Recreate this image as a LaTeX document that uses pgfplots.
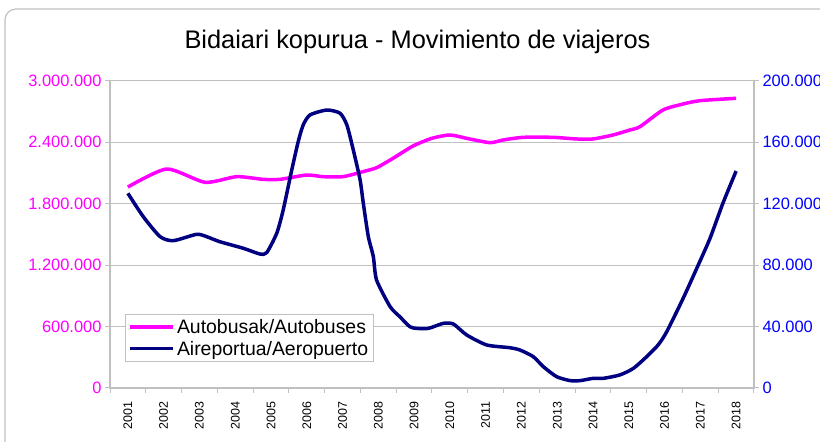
\documentclass[border=0pt]{standalone}
\usepackage{pgfplots}
\pgfplotsset{compat=1.18}
\usepackage{fontspec}
\setmainfont{Liberation Sans}
\definecolor{mag}{RGB}{255,0,255}
\definecolor{navy}{RGB}{0,0,128}
\definecolor{blu}{RGB}{0,0,255}
\definecolor{gridgray}{RGB}{192,192,192}
\begin{document}
\begin{tikzpicture}[x=1bp,y=1bp]
\useasboundingbox (0,0) rectangle (820,442);
\draw[gridgray, line width=1.2bp, rounded corners=11bp] (5,-30) rectangle (850,433);
\node[anchor=base, font=\fontsize{25.5}{30}\selectfont] at (417.5,393) {Bidaiari kopurua - Movimiento de viajeros};
\begin{axis}[
  at={(110bp,54bp)}, anchor=south west,
  width=644bp, height=307.3bp, scale only axis,
  xmin=2000.5, xmax=2018.5, ymin=0, ymax=3000000,
  xtick={2001,2002,2003,2004,2005,2006,2007,2008,2009,2010,2011,2012,2013,2014,2015,2016,2017,2018},
  xticklabels={2001,2002,2003,2004,2005,2006,2007,2008,2009,2010,2011,2012,2013,2014,2015,2016,2017,2018},
  minor xtick={2000.5,2001.5,...,2018.5},
  major x tick style={draw=none},
  minor tick length=5bp, major tick length=5bp,
  tick align=outside,
  xtick pos=bottom, ytick pos=left,
  ytick={0,600000,1200000,1800000,2400000,3000000},
  yticklabels={0,600.000,1.200.000,1.800.000,2.400.000,3.000.000},
  scaled y ticks=false,
  ymajorgrids, grid style={gridgray, line width=1bp},
  axis line style={gridgray, line width=1.2bp},
  tick style={gridgray, line width=1bp},
  yticklabel style={font=\fontsize{16.5}{19}\selectfont, text=mag},
  xticklabel style={rotate=90, anchor=east, font=\fontsize{12.5}{14}\selectfont, text=black},
  xticklabel shift=5bp,
  clip=false,
]
\addplot[mag, line width=3.5bp, line join=round, smooth, tension=0.4] coordinates {
(2001.0,1962000) (2002.085,2138000) (2003.155,2008000) (2004.041,2063000)
(2004.776,2037000) (2005.251,2037000) (2005.998,2079000) (2006.453,2063000)
(2007.012,2063000) (2007.571,2112000) (2007.954,2151000) (2008.409,2242000)
(2008.968,2362000) (2009.491,2437000) (2010.002,2470000) (2010.469,2437000)
(2011.12,2395000) (2011.484,2421000) (2012.043,2447000) (2012.881,2447000)
(2013.544,2431000) (2013.999,2431000) (2014.558,2470000) (2015.033,2519000)
(2015.313,2551000) (2015.956,2714000) (2016.515,2772000) (2016.99,2805000)
(2018.0,2828000)
};
\end{axis}
\begin{axis}[
  at={(110bp,54bp)}, anchor=south west,
  width=644bp, height=307.3bp, scale only axis,
  xmin=2000.5, xmax=2018.5, ymin=0, ymax=200000,
  axis x line=none, axis y line*=right,
  ytick={0,40000,80000,120000,160000,200000},
  yticklabels={0,40.000,80.000,120.000,160.000,200.000},
  scaled y ticks=false,
  tick align=outside, major tick length=5bp,
  axis line style={gridgray, line width=1.2bp},
  tick style={gridgray, line width=1bp},
  yticklabel style={font=\fontsize{16.5}{19}\selectfont, text=blu},
  clip=false,
  legend style={at={(0.0233,0.0846)}, anchor=south west, draw=gridgray, line width=1bp,
    font=\fontsize{19.5}{22}\selectfont, text=black, inner sep=3bp, row sep=2bp},
  legend cell align=left,
  legend image code/.code={\draw[#1] (0bp,0bp) -- (43bp,0bp);},
]
\addlegendimage{mag, line width=3.5bp}
\addlegendentry{Autobusak/Autobuses}
\addplot[navy, line width=3.5bp, line join=round, smooth, tension=0.4] coordinates {
(2001.0,126700) (2001.43,111500) (2001.9,98500) (2002.27,95900) (2002.92,100000)
(2003.2,98500) (2003.57,95200) (2004.23,90900) (2004.69,87200) (2004.88,88100)
(2005.16,100700) (2005.34,115800) (2005.58,141900) (2005.76,160300) (2005.9,171200)
(2006.09,177700) (2006.56,180900) (2006.93,178800) (2007.12,171200) (2007.3,154900)
(2007.49,135400) (2007.58,120200) (2007.72,98500) (2007.86,85500) (2007.95,70300)
(2008.33,52900) (2008.6,46400) (2008.88,39900) (2009.07,38800) (2009.4,38800)
(2009.82,42100) (2010.1,41600) (2010.47,34500) (2011.03,28000) (2011.68,26200)
(2011.96,24700) (2012.33,20400) (2012.61,13900) (2012.98,7400) (2013.36,4800)
(2013.64,4800) (2014.01,6300) (2014.29,6300) (2014.75,8500) (2015.13,12800)
(2015.5,20400) (2015.82,28000) (2016.06,36600) (2016.52,58400) (2016.9,77900)
(2017.27,97400) (2017.63,120200) (2018.0,141200)
};
\addlegendentry{Aireportua/Aeropuerto}
\end{axis}
\end{tikzpicture}
\end{document}
